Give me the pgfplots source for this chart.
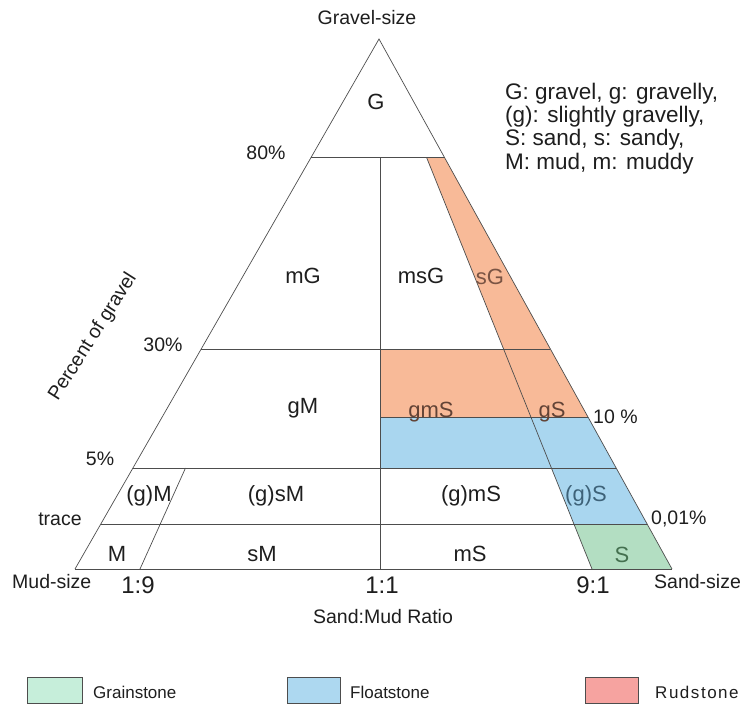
\documentclass[border=0pt]{standalone}
\usepackage{pgfplots}
\pgfplotsset{compat=1.18}
\usepackage{fontspec}
\setmainfont{Liberation Sans}
\definecolor{rud}{HTML}{F8BA98}
\definecolor{flo}{HTML}{A9D6EF}
\definecolor{gra}{HTML}{B3DEC2}
\definecolor{rudleg}{HTML}{F6A3A0}
\definecolor{floleg}{HTML}{ADD8F0}
\definecolor{graleg}{HTML}{C6EEDA}
\definecolor{ln}{HTML}{4D4D4D}
\definecolor{txt}{HTML}{1E1E1E}
\definecolor{txtr}{HTML}{7A5444}
\definecolor{txtb}{HTML}{3E6278}
\definecolor{txtg}{HTML}{44704F}
\newcommand{\fs}[1]{\fontsize{#1bp}{#1bp}\selectfont}
\begin{document}
\begin{tikzpicture}
\begin{axis}[
  width=745bp, height=708bp, scale only axis,
  xmin=0, xmax=745, ymin=0, ymax=708, y dir=reverse,
  hide axis, clip=false,
]
\path (rel axis cs:0,0) rectangle (rel axis cs:1,1);
% ---- coloured fields ----
\addplot[fill=rud, draw=none] coordinates {(426.8,158) (444.8,158) (588,417) (380,417) (380,349) (503.6,349)} -- cycle;
\addplot[fill=flo, draw=none] coordinates {(380,417) (588,417) (647.1,524) (573.9,524) (551.4,468) (380,468)} -- cycle;
\addplot[fill=gra, draw=none] coordinates {(573.9,524) (647.1,524) (672,569) (592,569)} -- cycle;
% ---- triangle and boundaries ----
\addplot[ln, line width=0.7bp] coordinates {(75,569) (379,39) (672,569)};
\addplot[ln, line width=1bp] coordinates {(75,569) (672,569)};
\addplot[ln, line width=1bp] coordinates {(310.7,158) (444.8,158)};
\addplot[ln, line width=1bp] coordinates {(201.2,349) (550.4,349)};
\addplot[ln, line width=1bp] coordinates {(380,417) (588,417)};
\addplot[ln, line width=1bp] coordinates {(132.9,468) (616.2,468)};
\addplot[ln, line width=1bp] coordinates {(100.8,524) (647.1,524)};
\addplot[ln, line width=1bp] coordinates {(380,158) (380,569)};
\addplot[ln, line width=0.7bp] coordinates {(140,569) (185.5,468)};
\addplot[ln, line width=0.7bp] coordinates {(592,569) (426.8,158)};
% ---- legend boxes ----
\addplot[fill=graleg, draw=ln, line width=0.8bp] coordinates {(27,677) (82,677) (82,703) (27,703)} -- cycle;
\addplot[fill=floleg, draw=ln, line width=0.8bp] coordinates {(287,677) (340,677) (340,703) (287,703)} -- cycle;
\addplot[fill=rudleg, draw=ln, line width=0.8bp] coordinates {(585,677) (638,677) (638,703) (585,703)} -- cycle;
% ---- field labels ----
\begin{scope}[every node/.style={anchor=base, inner sep=0pt, text=txt, font=\fs{22}}]
\node at (axis cs:376,110) {G};
\node at (axis cs:303,283.5) {mG};
\node at (axis cs:421,283.5) {msG};
\node[text=txtr] at (axis cs:490,284.5) {sG};
\node at (axis cs:303,413) {gM};
\node[text=txtr!80!black] at (axis cs:431,417) {gmS};
\node[text=txtr!80!black] at (axis cs:552,417) {gS};
\node at (axis cs:149,501.5) {(g)M};
\node at (axis cs:276,501.5) {(g)sM};
\node at (axis cs:471,501.5) {(g)mS};
\node[text=txtb] at (axis cs:586,501.5) {(g)S};
\node at (axis cs:117,561.7) {M};
\node at (axis cs:262,561.7) {sM};
\node at (axis cs:470,561.7) {mS};
\node[text=txtg] at (axis cs:622,562.5) {S};
\end{scope}
% ---- axis labels ----
\begin{scope}[every node/.style={inner sep=0pt, text=txt, font=\fs{19.5}}]
\node[anchor=base] at (axis cs:367,25) {Gravel-size};
\node[anchor=base] at (axis cs:266,160) {80\%};
\node[anchor=base] at (axis cs:163,351.5) {30\%};
\node[anchor=base] at (axis cs:100,465) {5\%};
\node[anchor=base] at (axis cs:60,525) {trace};
\node[anchor=base west] at (axis cs:593,423) {10 \%};
\node[anchor=base west] at (axis cs:651,524) {0,01\%};
\node[anchor=base west] at (axis cs:12,588) {Mud-size};
\node[anchor=base west] at (axis cs:654,588) {Sand-size};
\node[anchor=base] at (axis cs:383,623) {Sand:Mud Ratio};
\node[rotate=57.6] at (axis cs:93,337) {Percent of gravel};
\end{scope}
\begin{scope}[every node/.style={anchor=base, inner sep=0pt, text=txt, font=\fs{24}}]
\node at (axis cs:138,593) {1:9};
\node at (axis cs:382,593) {1:1};
\node at (axis cs:593,593) {9:1};
\end{scope}
% ---- key ----
\begin{scope}[every node/.style={anchor=base west, inner sep=0pt, text=txt, font=\fs{22.5}}]
\node at (axis cs:505,99.3) {G: gravel, g: gravelly,};
\node at (axis cs:505,122.6) {(g): slightly gravelly,};
\node at (axis cs:505,146) {S: sand, s: sandy,};
\node at (axis cs:505,169.3) {M: mud, m: muddy};
\end{scope}
% ---- legend texts ----
\begin{scope}[every node/.style={anchor=base west, inner sep=0pt, text=txt, font=\fs{17}}]
\node at (axis cs:93,698) {Grainstone};
\node at (axis cs:350,698) {Floatstone};
\node at (axis cs:655,698) {\addfontfeature{LetterSpace=9}Rudstone};
\end{scope}
\end{axis}
\end{tikzpicture}
\end{document}
